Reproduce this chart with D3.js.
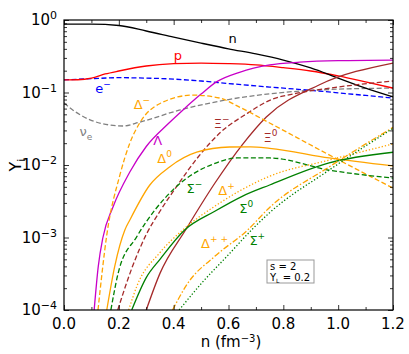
<!DOCTYPE html>
<html><head><meta charset="utf-8">
<script src="https://cdn.jsdelivr.net/npm/d3@7"></script>
<style>body{margin:0;background:#fff}text{font-family:"DejaVu Sans",sans-serif}</style>
</head><body><div id="chart"></div>
<script>
// ---- data ----
const xTicks = [0.0, 0.2, 0.4, 0.6, 0.8, 1.0, 1.2];
const xTickLabels = ["0.0", "0.2", "0.4", "0.6", "0.8", "1.0", "1.2"];
const yTicks = [1e-4, 1e-3, 1e-2, 1e-1, 1];
const yTickExps = ["\u22124", "\u22123", "\u22122", "\u22121", "0"];

const nNeutron = [0, 0.1, 0.2, 0.3, 0.4, 0.5, 0.6, 0.7, 0.8, 0.9, 1.0, 1.1, 1.2];
const yNeutron = [0.88, 0.88, 0.84, 0.705, 0.58, 0.48, 0.40, 0.34, 0.28, 0.218, 0.158, 0.115, 0.087];
const nProton = [0, 0.05, 0.1, 0.15, 0.2, 0.3, 0.4, 0.5, 0.6, 0.7, 0.8, 0.9, 1.0, 1.1, 1.2];
const yProton = [0.149, 0.15, 0.158, 0.18, 0.198, 0.232, 0.25, 0.255, 0.25, 0.24, 0.22, 0.198, 0.169, 0.14, 0.115];
const nElectron = [0, 0.1, 0.2, 0.3, 0.4, 0.5, 0.6, 0.75, 0.9, 1.0, 1.1, 1.2];
const yElectron = [0.149, 0.155, 0.16, 0.158, 0.153, 0.144, 0.133, 0.119, 0.107, 0.099, 0.091, 0.084];
const nNu = [0, 0.033, 0.095, 0.167, 0.215, 0.276, 0.42, 0.6, 0.75, 0.97, 1.2];
const yNu = [0.072, 0.057, 0.042, 0.0356, 0.0345, 0.039, 0.057, 0.08, 0.096, 0.11, 0.115];
const nLambda = [0.11, 0.125, 0.142, 0.178, 0.24, 0.3, 0.38, 0.433, 0.5, 0.556, 0.64, 0.75, 0.86, 1.0, 1.2];
const yLambda = [1e-4, 4e-4, 1e-3, 2.6e-3, 8e-3, 0.018, 0.037, 0.057, 0.095, 0.14, 0.19, 0.24, 0.262, 0.275, 0.28];
const nXiM = [0.196, 0.25, 0.3, 0.35, 0.41, 0.49, 0.57, 0.67, 0.75, 0.85, 0.97, 1.2];
const yXiM = [1e-4, 4e-4, 1.1e-3, 2.3e-3, 5e-3, 0.013, 0.028, 0.052, 0.078, 0.098, 0.115, 0.144];
const nXi0 = [0.30, 0.35, 0.445, 0.55, 0.65, 0.738, 0.93, 1.2];
const yXi0 = [1e-4, 3.2e-4, 1.3e-3, 5.6e-3, 0.019, 0.046, 0.127, 0.255];
const nDeltaM = [0.124, 0.156, 0.204, 0.24, 0.276, 0.349, 0.47, 0.567, 0.64, 0.75, 0.967, 1.2];
const yDeltaM = [1e-4, 1.08e-3, 7.3e-3, 0.02, 0.038, 0.07, 0.092, 0.084, 0.063, 0.038, 0.0138, 4.8e-3];
const nDelta0 = [0.156, 0.185, 0.222, 0.24, 0.313, 0.385, 0.484, 0.604, 0.68, 0.75, 0.967, 1.2];
const yDelta0 = [1e-4, 4e-4, 1.27e-3, 1.74e-3, 5.3e-3, 9.4e-3, 0.015, 0.0177, 0.0178, 0.017, 0.0125, 9.7e-3];
const nSigmaM = [0.171, 0.2, 0.265, 0.404, 0.556, 0.63, 0.75, 0.967, 1.2];
const ySigmaM = [1e-4, 3.5e-4, 1.02e-3, 4.8e-3, 0.0107, 0.0125, 0.0125, 8.5e-3, 6.6e-3];
const nDeltaP = [0.236, 0.265, 0.35, 0.433, 0.55, 0.75, 0.967, 1.2];
const yDeltaP = [1e-4, 2.1e-4, 6.2e-4, 1.27e-3, 2.7e-3, 7e-3, 0.0117, 0.0195];
const nSigma0 = [0.247, 0.3, 0.35, 0.44, 0.55, 0.65, 0.75, 0.967, 1.2];
const ySigma0 = [1e-4, 2.8e-4, 5e-4, 1.27e-3, 2.3e-3, 3.7e-3, 5.3e-3, 0.0107, 0.015];
const nDeltaPP = [0.396, 0.45, 0.55, 0.67, 0.75, 0.967, 1.2];
const yDeltaPP = [1e-4, 2.3e-4, 5.5e-4, 1.27e-3, 2.6e-3, 9.4e-3, 0.033];
const nSigmaP = [0.42, 0.5, 0.6, 0.684, 0.75, 0.967, 1.2];
const ySigmaP = [1e-4, 2.3e-4, 5.8e-4, 1.27e-3, 2.2e-3, 8.5e-3, 0.032];

const seriesList = [
  {n: nNu, y: yNu, color: "#808080", dash: "5,2.5"},
  {n: nElectron, y: yElectron, color: "#0000ff", dash: "5,2.5"},
  {n: nProton, y: yProton, color: "#ff0000", dash: null},
  {n: nNeutron, y: yNeutron, color: "#000000", dash: null},
  {n: nLambda, y: yLambda, color: "#c800c8", dash: null},
  {n: nXiM, y: yXiM, color: "#a52a2a", dash: "5,2.5"},
  {n: nXi0, y: yXi0, color: "#a52a2a", dash: null},
  {n: nDeltaM, y: yDeltaM, color: "#ffa500", dash: "5,2.5"},
  {n: nDelta0, y: yDelta0, color: "#ffa500", dash: null},
  {n: nSigmaM, y: ySigmaM, color: "#008000", dash: "5,2.5"},
  {n: nDeltaP, y: yDeltaP, color: "#ffa500", dash: "1.3,2"},
  {n: nSigma0, y: ySigma0, color: "#008000", dash: null},
  {n: nDeltaPP, y: yDeltaPP, color: "#ffa500", dash: "6,2,1.5,2"},
  {n: nSigmaP, y: ySigmaP, color: "#008000", dash: "1.3,2"}
];

// labels: [main, sup, sub, color, n, Y] (centre of the label)
const labels = [
  ["n", "", "", "#000000", 0.615, 0.565],
  ["p", "", "", "#ff0000", 0.415, 0.329],
  ["e", "\u2212", "", "#0000ff", 0.142, 0.115],
  ["\u0394", "\u2212", "", "#ffa500", 0.284, 0.069],
  ["\u03bd", "", "e", "#808080", 0.08, 0.0294],
  ["\u039b", "", "", "#c800c8", 0.342, 0.0221],
  ["\u039e", "\u2212", "", "#a52a2a", 0.575, 0.038],
  ["\u039e", "0", "", "#a52a2a", 0.753, 0.0243],
  ["\u0394", "0", "", "#ffa500", 0.367, 0.0125],
  ["\u03a3", "\u2212", "", "#008000", 0.476, 0.0048],
  ["\u0394", "+", "", "#ffa500", 0.593, 0.0045],
  ["\u03a3", "0", "", "#008000", 0.665, 0.00255],
  ["\u0394", "+ +", "", "#ffa500", 0.549, 0.00084],
  ["\u03a3", "+", "", "#008000", 0.705, 0.00093]
];

// ---- chart ----
const W = 409, H = 354;
const m = {left: 64, top: 20, right: 16, bottom: 44};
const iw = W - m.left - m.right, ih = H - m.top - m.bottom;
const svg = d3.select("#chart").append("svg").attr("width", W).attr("height", H);
const g = svg.append("g").attr("transform", `translate(${m.left},${m.top})`);
const x = d3.scaleLinear().domain([0, 1.2]).range([0, iw]);
const y = d3.scaleLog().domain([1e-4, 1]).range([ih, 0]);

svg.append("defs").append("clipPath").attr("id", "clip")
  .append("rect").attr("width", iw).attr("height", ih);

const line = d3.line().curve(d3.curveMonotoneX).x(d => x(d[0])).y(d => y(d[1]));
const plot = g.append("g").attr("clip-path", "url(#clip)");
seriesList.forEach(s => {
  plot.append("path").datum(s.n.map((v, i) => [v, s.y[i]]))
    .attr("fill", "none").attr("stroke", s.color).attr("stroke-width", 1.3)
    .attr("stroke-dasharray", s.dash).attr("d", line);
});

// axes with inward ticks
const xMinor = d3.range(0.1, 1.2, 0.2);
const yMinor = [];
for (let e = -4; e < 0; e++) for (let k = 2; k <= 9; k++) yMinor.push(k * Math.pow(10, e));
function addAxes(sel, gen, major, minor, tr) {
  const a = sel.append("g").attr("transform", tr);
  a.call(gen.tickValues(major).tickSize(-5).tickSizeOuter(0).tickFormat(""));
  a.append("g").call(gen.tickValues(minor).tickSize(-3).tickSizeOuter(0).tickFormat(""));
  a.selectAll(".domain").remove();
  a.selectAll("line").attr("stroke", "#000").attr("stroke-width", 0.8);
}
addAxes(g, d3.axisBottom(x), xTicks, xMinor, `translate(0,${ih})`);
addAxes(g, d3.axisTop(x), xTicks, xMinor, "");
addAxes(g, d3.axisLeft(y), yTicks, yMinor, "");
addAxes(g, d3.axisRight(y), yTicks, yMinor, `translate(${iw},0)`);
g.append("rect").attr("width", iw).attr("height", ih).attr("fill", "none").attr("stroke", "#000").attr("stroke-width", 1.2);

// tick labels
g.selectAll(".xl").data(xTicks).enter().append("text")
  .attr("x", d => x(d)).attr("y", ih + 19).attr("text-anchor", "middle")
  .attr("font-size", 15).text((d, i) => xTickLabels[i]);
yTicks.forEach((t, i) => {
  const tx = g.append("text").attr("x", -7).attr("y", y(t) + 5).attr("text-anchor", "end").attr("font-size", 15);
  tx.append("tspan").text("10");
  tx.append("tspan").attr("dy", -6).attr("font-size", 11).text(yTickExps[i]);
});

// axis titles
const yl = svg.append("text").attr("transform", "translate(21,165) rotate(-90)").attr("text-anchor", "middle").attr("font-size", 16);
yl.append("tspan").text("Y");
yl.append("tspan").attr("dy", 4).attr("font-size", 11).text("i");
const xl = svg.append("text").attr("x", 231).attr("y", 347).attr("text-anchor", "middle").attr("font-size", 15);
xl.append("tspan").text("n (fm");
xl.append("tspan").attr("dy", -5).attr("font-size", 10).text("\u22123");
xl.append("tspan").attr("dy", 5).text(")");

// curve labels
labels.forEach(l => {
  const t = g.append("text").attr("x", x(l[4])).attr("y", y(l[5]) + 5)
    .attr("text-anchor", "middle").attr("font-size", 13).attr("fill", l[3]);
  t.append("tspan").text(l[0]);
  if (l[1]) t.append("tspan").attr("dy", -6).attr("font-size", 9).text(l[1]);
  if (l[2]) t.append("tspan").attr("dy", 4).attr("font-size", 9).text(l[2]);
});

// info box
const box = svg.append("g");
box.append("rect").attr("x", 267).attr("y", 260).attr("width", 47).attr("height", 23)
  .attr("fill", "#fff").attr("stroke", "#999").attr("stroke-width", 1);
box.append("text").attr("x", 270).attr("y", 270).attr("font-size", 10).text("s  = 2");
const t2 = box.append("text").attr("x", 270).attr("y", 281).attr("font-size", 10);
t2.append("tspan").text("Y");
t2.append("tspan").attr("dy", 2).attr("font-size", 6).text("L");
t2.append("tspan").attr("dy", -2).text(" = 0.2");
</script></body></html>
